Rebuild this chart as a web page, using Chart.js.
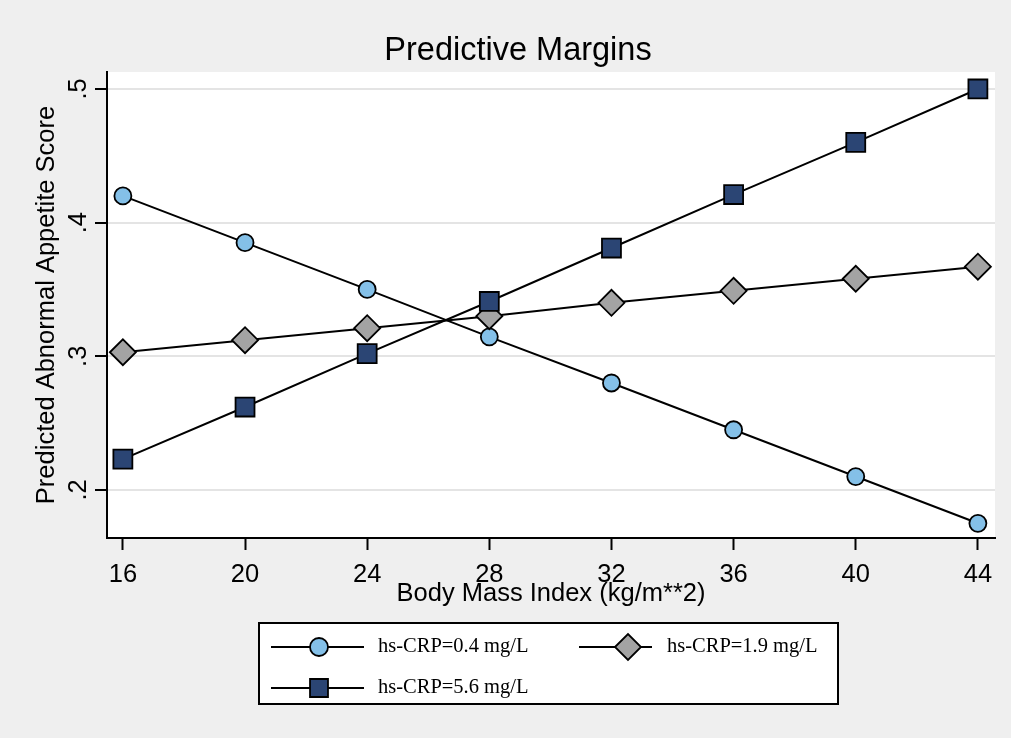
<!DOCTYPE html>
<html>
<head>
<meta charset="utf-8">
<script src="https://cdn.jsdelivr.net/npm/chart.js@4/dist/chart.umd.min.js"></script>
<style>
  html, body { margin: 0; padding: 0; background: #ffffff; }
  #wrap { width: 1011px; height: 738px; position: relative; }
</style>
</head>
<body>
<div id="wrap"><canvas id="marginsChart" width="1011" height="738"></canvas></div>
<script>
// values
const bmi = [16, 20, 24, 28, 32, 36, 40, 44];
const crpLow = [0.420, 0.385, 0.350, 0.3145, 0.280, 0.245, 0.210, 0.175];
const crpMid = [0.303, 0.312, 0.321, 0.330, 0.340, 0.349, 0.358, 0.367];
const crpHigh = [0.223, 0.262, 0.302, 0.341, 0.381, 0.421, 0.460, 0.500];
const seriesLabels = ['hs-CRP=0.4 mg/L', 'hs-CRP=1.9 mg/L', 'hs-CRP=5.6 mg/L'];
const xTicks = [16, 20, 24, 28, 32, 36, 40, 44];
const yTicks = [0.2, 0.3, 0.4, 0.5];
const yTickLabels = ['.2', '.3', '.4', '.5'];

function pts(ys) {
    return bmi.map(function(x, i) { return {x: x, y: ys[i]}; });
}

// grey page, white plot region
const backdrop = {
    id: 'backdrop',
    beforeDraw: function(chart) {
        const ctx = chart.ctx;
        const a = chart.chartArea;
        ctx.save();
        ctx.fillStyle = '#efefef';
        ctx.fillRect(0, 0, chart.width, chart.height);
        ctx.fillStyle = '#ffffff';
        ctx.fillRect(a.left, a.top, a.right - a.left, a.bottom - a.top);
        ctx.restore();
    }
};

// Stata-like boxed legend with line + marker samples
const boxLegend = {
    id: 'boxLegend',
    afterDraw: function(chart) {
        const ctx = chart.ctx;
        const slots = [
            {x1: 271, x2: 364, mx: 319, tx: 378, y: 647},
            {x1: 579, x2: 652, mx: 628, tx: 667, y: 647},
            {x1: 271, x2: 364, mx: 319, tx: 378, y: 688}
        ];
        ctx.save();
        ctx.fillStyle = '#ffffff';
        ctx.fillRect(259, 623, 579, 81);
        ctx.strokeStyle = '#000000';
        ctx.lineWidth = 2;
        ctx.strokeRect(259, 623, 579, 81);
        chart.data.datasets.forEach(function(ds, i) {
            const s = slots[i];
            ctx.strokeStyle = '#000000';
            ctx.lineWidth = 2;
            ctx.beginPath();
            ctx.moveTo(s.x1, s.y);
            ctx.lineTo(s.x2, s.y);
            ctx.stroke();
            ctx.fillStyle = ds.pointBackgroundColor;
            ctx.strokeStyle = ds.pointBorderColor;
            ctx.lineWidth = ds.pointBorderWidth;
            Chart.helpers.drawPoint(ctx, {
                pointStyle: ds.pointStyle,
                radius: ds.legendRadius,
                rotation: 0,
                borderWidth: ds.pointBorderWidth
            }, s.mx, s.y);
            ctx.fillStyle = '#000000';
            ctx.font = '20.5px "Liberation Serif", "Times New Roman", serif';
            ctx.textAlign = 'left';
            ctx.textBaseline = 'middle';
            ctx.fillText(ds.label, s.tx, s.y);
        });
        ctx.restore();
    }
};

const ctx = document.getElementById('marginsChart').getContext('2d');
new Chart(ctx, {
    type: 'line',
    data: {
        datasets: [{
            label: seriesLabels[0],
            data: pts(crpLow),
            borderColor: '#000000',
            borderWidth: 2,
            pointStyle: 'circle',
            pointRadius: 8.5,
            legendRadius: 9,
            pointBackgroundColor: '#84c0e8',
            pointBorderColor: '#000000',
            pointBorderWidth: 1.8,
            order: 2
        }, {
            label: seriesLabels[1],
            data: pts(crpMid),
            borderColor: '#000000',
            borderWidth: 2,
            pointStyle: 'rectRot',
            pointRadius: 13,
            legendRadius: 13,
            pointBackgroundColor: '#a3a3a3',
            pointBorderColor: '#000000',
            pointBorderWidth: 1.8,
            order: 1
        }, {
            label: seriesLabels[2],
            data: pts(crpHigh),
            borderColor: '#000000',
            borderWidth: 2,
            pointStyle: 'rect',
            pointRadius: 13.4,
            legendRadius: 12.7,
            pointBackgroundColor: '#2b4574',
            pointBorderColor: '#000000',
            pointBorderWidth: 1.8,
            order: 0
        }]
    },
    options: {
        responsive: false,
        animation: false,
        layout: {
            // left padding shifts the title centre to match the reference
            padding: {left: 41, right: 16, top: 0, bottom: 129}
        },
        plugins: {
            legend: {display: false},
            tooltip: {enabled: false},
            title: {
                display: true,
                text: 'Predictive Margins',
                color: '#000000',
                font: {family: '"Liberation Sans", Arial, sans-serif', size: 32.5, weight: 'normal'},
                padding: {top: 32, bottom: 1}
            }
        },
        scales: {
            x: {
                type: 'linear',
                min: 15.48,
                max: 44.56,
                afterBuildTicks: function(scale) {
                    scale.ticks = xTicks.map(function(v) { return {value: v}; });
                },
                afterFit: function(scale) { scale.height = 71; },
                grid: {
                    drawOnChartArea: false,
                    drawTicks: true,
                    tickLength: 12,
                    tickColor: '#000000',
                    tickWidth: 2
                },
                border: {display: true, color: '#000000', width: 2},
                ticks: {
                    color: '#000000',
                    padding: 10,
                    maxRotation: 0,
                    autoSkip: false,
                    font: {family: '"Liberation Sans", Arial, sans-serif', size: 25.5}
                },
                title: {
                    display: true,
                    text: 'Body Mass Index (kg/m**2)',
                    color: '#000000',
                    padding: 0,
                    font: {family: '"Liberation Sans", Arial, sans-serif', size: 25.5}
                }
            },
            y: {
                type: 'linear',
                min: 0.164,
                max: 0.5127,
                afterBuildTicks: function(scale) {
                    scale.ticks = yTicks.map(function(v) { return {value: v}; });
                },
                afterFit: function(scale) { scale.width = 66; },
                grid: {
                    color: '#e4e4e4',
                    lineWidth: 2,
                    drawTicks: true,
                    tickLength: 12,
                    tickColor: '#000000',
                    tickWidth: 2
                },
                border: {display: true, color: '#000000', width: 2},
                ticks: {
                    color: '#000000',
                    padding: 5,
                    minRotation: 90,
                    maxRotation: 90,
                    crossAlign: 'center',
                    autoSkip: false,
                    font: {family: '"Liberation Sans", Arial, sans-serif', size: 25.5},
                    callback: function(value) {
                        const i = yTicks.findIndex(function(t) { return Math.abs(t - value) < 1e-9; });
                        return i >= 0 ? yTickLabels[i] : '';
                    }
                },
                title: {
                    display: true,
                    text: 'Predicted Abnormal Appetite Score',
                    color: '#000000',
                    padding: {top: -9, bottom: 0},
                    font: {family: '"Liberation Sans", Arial, sans-serif', size: 25.5}
                }
            }
        }
    },
    plugins: [backdrop, boxLegend]
});
</script>
</body>
</html>
